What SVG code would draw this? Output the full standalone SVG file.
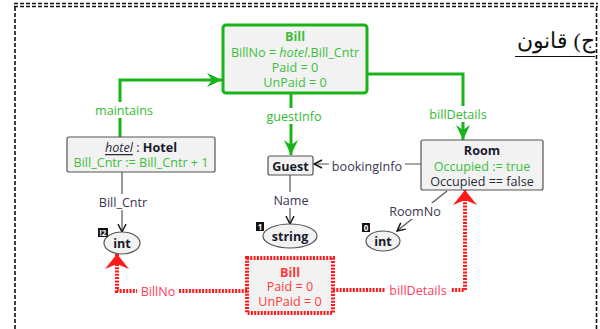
<svg xmlns="http://www.w3.org/2000/svg" width="600" height="329" viewBox="0 0 600 329">
  <style>
    text { font-family: "Open Sans", "Noto Sans", "DejaVu Sans", sans-serif; font-size: 12.6px; text-anchor: middle; dominant-baseline: central; }
    .title { font-weight: bold; fill: #1a1a2e; }
    .dark { fill: #2a2a3a; }
    .green { fill: #3cbf3c; }
    .red { fill: #ff3b3b; }
    .lbl { fill: #3a3550; }
    .glbl { fill: #35bb35; }
    .rlbl { fill: #ff4060; }
    .box { fill: #f2f2f2; stroke: #555; stroke-width: 1.2; }
    .gbox { fill: #f2f2f2; stroke: #18b418; stroke-width: 3; }
    .rbox { fill: #f2f2f2; stroke: #ff1a1a; stroke-width: 4; stroke-dasharray: 2 1.3; }
    .oval { fill: #f2f2f2; stroke: #555; stroke-width: 1.2; }
    .gline { fill: none; stroke: #18b418; stroke-width: 3; }
    .kline { fill: none; stroke: #555; stroke-width: 1.2; }
    .rline { fill: none; stroke: #ff1a1a; stroke-width: 4; stroke-dasharray: 2 1.3; }
    .frame { fill: none; stroke: #111; stroke-width: 1.6; stroke-dasharray: 4 2; }
    .badge { fill: #111; }
    .badgetxt { fill: #fff; font-size: 8px; font-weight: bold; }
    .bg { fill: #fff; }
  </style>
  <defs>
    <marker id="g-arrow" markerUnits="userSpaceOnUse" markerWidth="16" markerHeight="14" refX="15" refY="7" orient="auto">
      <path d="M0,0 L15,7 L0,14 L5,7 z" fill="#18b418"/>
    </marker>
    <marker id="k-arrow" markerUnits="userSpaceOnUse" markerWidth="10" markerHeight="10" refX="9" refY="5" orient="auto">
      <path d="M1,1 L9,5 L1,9" fill="none" stroke="#111" stroke-width="1.4"/>
    </marker>
    <marker id="r-arrow" markerUnits="userSpaceOnUse" markerWidth="16" markerHeight="24" refX="15" refY="12" orient="auto">
      <path d="M0,0 L15,12 L0,24 L5,12 z" fill="#ff1a1a"/>
    </marker>
  </defs>

  <!-- page frame -->
  <g id="frame">
    <line class="frame" x1="14" y1="3.5" x2="598" y2="3.5"/>
    <line class="frame" x1="14" y1="6.5" x2="598" y2="6.5"/>
    <line class="frame" x1="15" y1="7" x2="15" y2="329"/>
    <line class="frame" x1="596.5" y1="7" x2="596.5" y2="329"/>
  </g>

  <!-- heading -->
  <g id="heading">
    <text x="556" y="40" style="font-family: 'Liberation Serif', 'DejaVu Serif', serif; font-size: 22px; fill: #111;" direction="rtl">ج) قانون</text>
    <line x1="515" y1="56.5" x2="595" y2="56.5" stroke="#111" stroke-width="1"/>
  </g>

  <!-- connectors -->
  <g id="connectors">
    <path class="gline" d="M120,137 V80 H222" marker-end="url(#g-arrow)"/>
    <path class="gline" d="M291,93 V155" marker-end="url(#g-arrow)"/>
    <path class="gline" d="M367,74 H463 V140" marker-end="url(#g-arrow)"/>
    <path class="kline" d="M421,164 H314" marker-end="url(#k-arrow)"/>
    <path class="kline" d="M290,175 V224" marker-end="url(#k-arrow)"/>
    <path class="kline" d="M122,172 V232" marker-end="url(#k-arrow)"/>
    <path class="kline" d="M447,191 L397,231" marker-end="url(#k-arrow)"/>
    <path class="rline" d="M247,291 H117 V254" marker-end="url(#r-arrow)"/>
    <path class="rline" d="M333,290 H465 V190" marker-end="url(#r-arrow)"/>

    <rect class="bg" x="94" y="102" width="60" height="16"/>
    <text class="glbl" x="124" y="110">maintains</text>
    <rect class="bg" x="262" y="108" width="64" height="16"/>
    <text class="glbl" x="294" y="116">guestInfo</text>
    <rect class="bg" x="425" y="106" width="66" height="16"/>
    <text class="glbl" x="458" y="114">billDetails</text>
    <rect class="bg" x="329" y="158" width="76" height="16"/>
    <text class="lbl" x="367" y="166">bookingInfo</text>
    <rect class="bg" x="272" y="192" width="38" height="16"/>
    <text class="lbl" x="291" y="200">Name</text>
    <rect class="bg" x="96" y="194" width="54" height="16"/>
    <text class="lbl" x="123" y="202">Bill_Cntr</text>
    <rect class="bg" x="388" y="203" width="54" height="16"/>
    <text class="lbl" x="415" y="211">RoomNo</text>
    <rect class="bg" x="137" y="283" width="42" height="16"/>
    <text class="rlbl" x="158" y="291">BillNo</text>
    <rect class="bg" x="385" y="282" width="66" height="16"/>
    <text class="rlbl" x="418" y="290">billDetails</text>
  </g>

  <!-- created Bill -->
  <g id="bill-new">
    <rect class="gbox" x="223" y="25" width="144" height="68" rx="3"/>
    <text class="green" x="295" y="36" style="font-weight:bold">Bill</text>
    <text class="green" x="295" y="52">BillNo = <tspan font-style="italic">hotel</tspan>.Bill_Cntr</text>
    <text class="green" x="295" y="67">Paid = 0</text>
    <text class="green" x="295" y="82">UnPaid = 0</text>
  </g>

  <!-- hotel : Hotel -->
  <g id="hotel">
    <rect class="box" x="67" y="137" width="148" height="35" rx="2"/>
    <text class="dark" x="141" y="147"><tspan font-style="italic" text-decoration="underline">hotel</tspan> : <tspan font-weight="bold" fill="#1a1a2e">Hotel</tspan></text>
    <text class="green" x="141" y="162">Bill_Cntr := Bill_Cntr + 1</text>
  </g>

  <!-- Guest -->
  <g id="guest">
    <rect class="box" x="268" y="156" width="45" height="19" rx="2"/>
    <text class="title" x="290.5" y="166">Guest</text>
  </g>

  <!-- Room -->
  <g id="room">
    <rect class="box" x="421" y="140" width="122" height="50" rx="2"/>
    <text class="title" x="482" y="150">Room</text>
    <text class="green" x="482" y="166">Occupied := true</text>
    <text class="dark" x="482" y="181">Occupied == false</text>
  </g>

  <!-- int for Bill_Cntr -->
  <g id="int-cntr">
    <ellipse class="oval" cx="122" cy="243" rx="18" ry="11"/>
    <text class="title" x="122" y="243">int</text>
    <rect class="badge" x="98" y="228" width="10" height="9"/>
    <text class="badgetxt" x="103" y="232.5">!2</text>
  </g>

  <!-- string for Name -->
  <g id="string-name">
    <ellipse class="oval" cx="290" cy="236" rx="27" ry="12"/>
    <text class="title" x="290" y="236">string</text>
    <rect class="badge" x="256" y="222" width="8" height="9"/>
    <text class="badgetxt" x="260" y="226.5">1</text>
  </g>

  <!-- int for RoomNo -->
  <g id="int-room">
    <ellipse class="oval" cx="383" cy="241" rx="17" ry="10"/>
    <text class="title" x="383" y="241">int</text>
    <rect class="badge" x="362" y="223" width="8" height="9"/>
    <text class="badgetxt" x="366" y="227.5">0</text>
  </g>

  <!-- deleted Bill -->
  <g id="bill-old">
    <rect class="rbox" x="247" y="258" width="86" height="55"/>
    <text class="red" x="290" y="272" style="font-weight:bold">Bill</text>
    <text class="red" x="290" y="286">Paid = 0</text>
    <text class="red" x="290" y="301">UnPaid = 0</text>
  </g>
</svg>
